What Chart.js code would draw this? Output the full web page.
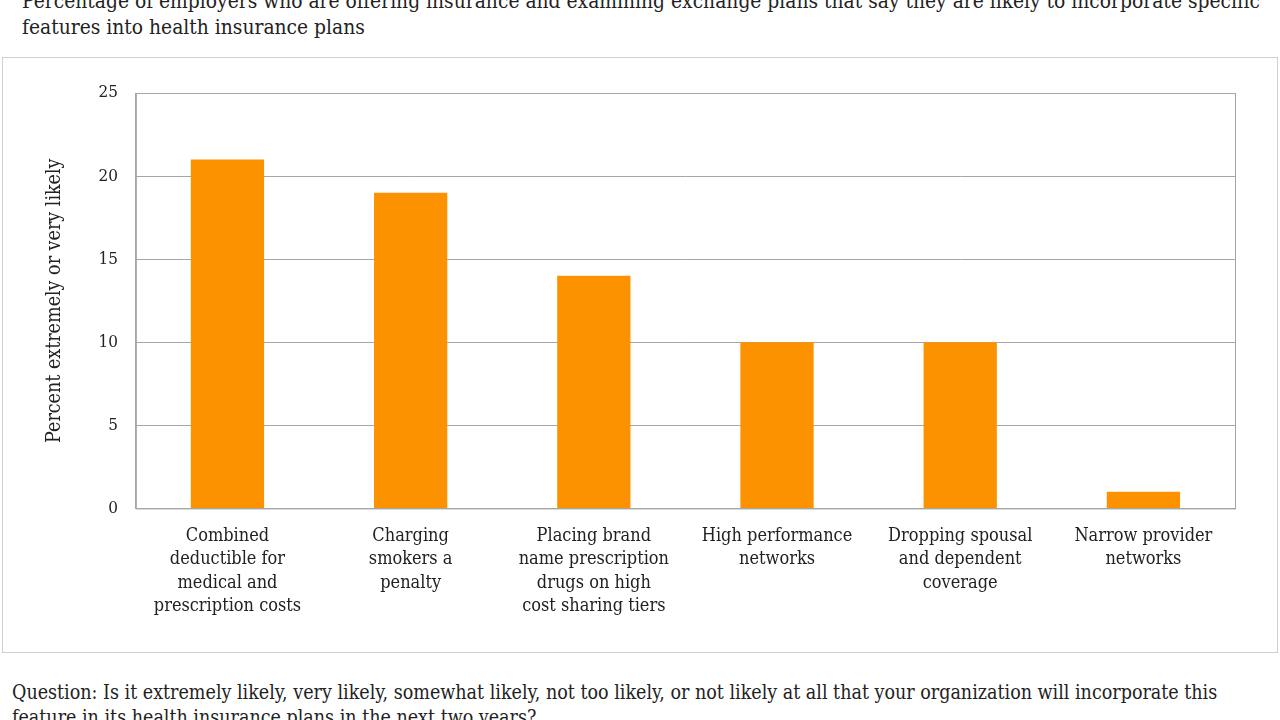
<!DOCTYPE html>
<html>
<head>
<meta charset="utf-8">
<script src="https://cdn.jsdelivr.net/npm/chart.js@4/dist/chart.umd.min.js"></script>
<style>
  html, body { margin: 0; padding: 0; background: #fff; }
  body { width: 1280px; height: 720px; position: relative; overflow: hidden; font-family: "DejaVu Serif Condensed", "DejaVu Serif", serif; color: #222; }
  .title { position: absolute; left: 22px; top: -12px; font-size: 20.8px; line-height: 26px; width: 1256px; white-space: nowrap; }
  .frame { position: absolute; left: 2px; top: 57px; width: 1274px; height: 594px; border: 1px solid #d0d0d0; }
  .question { position: absolute; left: 12px; top: 680px; font-size: 19.5px; line-height: 25px; width: 1260px; white-space: nowrap; }
  #wrap { position: absolute; left: 0; top: 0; width: 1280px; height: 720px; }
</style>
</head>
<body>
<div class="title">Percentage of employers who are offering insurance and examining exchange plans that say they are likely to incorporate specific<br>features into health insurance plans</div>
<div class="frame"></div>
<div class="question">Question: Is it extremely likely, very likely, somewhat likely, not too likely, or not likely at all that your organization will incorporate this<br>feature in its health insurance plans in the next two years?</div>
<div id="wrap"><canvas id="myChart"></canvas></div>
<script>
const categories = [
  ['Combined', 'deductible for', 'medical and', 'prescription costs'],
  ['Charging', 'smokers a', 'penalty'],
  ['Placing brand', 'name prescription', 'drugs on high', 'cost sharing tiers'],
  ['High performance', 'networks'],
  ['Dropping spousal', 'and dependent', 'coverage'],
  ['Narrow provider', 'networks']
]
const percentLikely = [21, 19, 14, 10, 10, 1]
const yTicks = [0, 5, 10, 15, 20, 25]

const barColor = '#fc9200'
const gridColor = '#a6a6a6'
const textColor = '#222'
const fontFamily = '"DejaVu Serif Condensed", "DejaVu Serif", serif'

// box round the plot area (top and right edges)
const plotBox = {
  id: 'plotBox',
  afterDraw(chart) {
    const a = chart.chartArea
    const c = chart.ctx
    c.save()
    c.strokeStyle = gridColor
    c.lineWidth = 1
    c.strokeRect(a.left + 0.5, a.top + 0.5, a.right - a.left, a.bottom - a.top)
    c.restore()
  }
}

var ctx = document.getElementById('myChart')
var lineChart = new Chart(ctx, {
  type: 'bar',
  data: {
    labels: categories,
    datasets: [{
      label: 'Percent extremely or very likely',
      data: percentLikely,
      backgroundColor: barColor,
      borderWidth: 0,
      categoryPercentage: 1,
      barPercentage: 0.4
    }]
  },
  plugins: [plotBox],
  options: {
    responsive: true,
    maintainAspectRatio: false,
    animation: false,
    layout: { padding: { top: 93, right: 45, bottom: 94, left: 39 } },
    plugins: {
      legend: { display: false },
      tooltip: { enabled: false }
    },
    scales: {
      x: {
        grid: { display: false },
        border: { color: gridColor },
        ticks: {
          color: textColor,
          maxRotation: 0,
          autoSkip: false,
          padding: 8,
          font: { family: fontFamily, size: 18, lineHeight: 1.3 }
        }
      },
      y: {
        min: 0,
        max: 25,
        afterBuildTicks: axis => { axis.ticks = yTicks.map(v => ({ value: v })) },
        grid: { color: gridColor, drawTicks: false },
        border: { color: gridColor },
        ticks: {
          color: textColor,
          padding: 18,
          font: { family: fontFamily, size: 17 }
        },
        title: {
          display: true,
          text: 'Percent extremely or very likely',
          color: textColor,
          padding: { bottom: 14 },
          font: { family: fontFamily, size: 19.5 }
        }
      }
    }
  }
})
</script>
</body>
</html>
